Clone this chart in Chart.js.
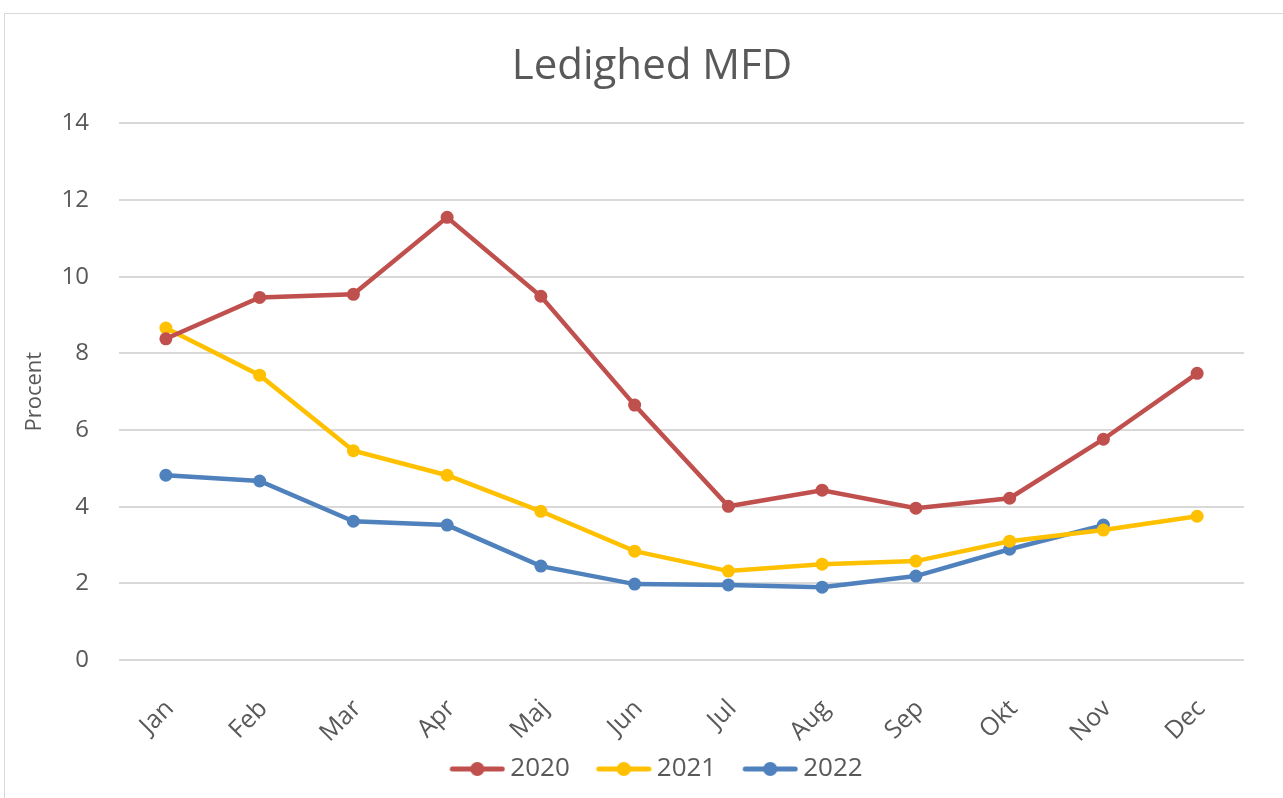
<!DOCTYPE html>
<html>
<head>
<meta charset="utf-8">
<script src="https://cdn.jsdelivr.net/npm/chart.js@4"></script>
<style>
  html, body { margin: 0; padding: 0; background: #fff; }
  #frame { position: absolute; left: 4px; top: 13px; width: 1290px; height: 800px; border: 1px solid #d9d9d9; box-sizing: border-box; }
  #wrap { position: absolute; left: 0; top: 0; width: 1283px; height: 798px; }
</style>
</head>
<body>
<div id="frame"></div>
<div id="wrap"><canvas id="chart"></canvas></div>
<script>
// Månader och ledighet i procent
const months = ["Jan", "Feb", "Mar", "Apr", "Maj", "Jun", "Jul", "Aug", "Sep", "Okt", "Nov", "Dec"];
const values2020 = [8.38, 9.46, 9.54, 11.55, 9.49, 6.65, 4.01, 4.43, 3.96, 4.22, 5.76, 7.48];
const values2021 = [8.66, 7.43, 5.46, 4.82, 3.88, 2.84, 2.32, 2.50, 2.58, 3.10, 3.39, 3.75];
const values2022 = [4.82, 4.67, 3.62, 3.52, 2.45, 1.98, 1.96, 1.90, 2.19, 2.89, 3.52, null];
const yTicks = [0, 2, 4, 6, 8, 10, 12, 14];

const textColor = "#595959";
const fontFamily = "'Open Sans', 'Liberation Sans', sans-serif";

// Legendsymbol: linje med punkt i mitten (med tom marginal till vänster)
function legendSymbol(color) {
  const c = document.createElement("canvas");
  c.width = 80; c.height = 16;
  const ctx = c.getContext("2d");
  ctx.strokeStyle = color;
  ctx.lineWidth = 5;
  ctx.lineCap = "round";
  ctx.beginPath();
  ctx.moveTo(27, 8); ctx.lineTo(77, 8);
  ctx.stroke();
  ctx.fillStyle = color;
  ctx.beginPath();
  ctx.arc(52, 8, 7, 0, Math.PI * 2);
  ctx.fill();
  return c;
}

function makeSet(label, data, color) {
  return {
    label: label,
    data: data,
    borderColor: color,
    backgroundColor: color,
    borderWidth: 4.5,
    pointRadius: 6.5,
    pointHoverRadius: 6.5,
    pointStyle: "circle",
    pointBackgroundColor: color,
    pointBorderWidth: 0,
    tension: 0,
    spanGaps: false
  };
}

// flytta titel och legend lite åt höger
const boxShift = {
  id: "boxShift",
  afterUpdate(chart) {
    if (chart.legend) {
      chart.legend.left += 20;
      chart.legend.right += 20;
    }
    if (chart.titleBlock) {
      chart.titleBlock.left += 24;
      chart.titleBlock.right += 24;
    }
  }
};

new Chart(document.getElementById("chart"), {
  type: "line",
  data: {
    labels: months,
    datasets: [
      makeSet("2020", values2020, "#C0504D"),
      makeSet("2021", values2021, "#FFC000"),
      makeSet("2022", values2022, "#4F81BD")
    ]
  },
  plugins: [boxShift],
  options: {
    responsive: true,
    maintainAspectRatio: false,
    animation: false,
    layout: { padding: { left: 12, right: 39, top: 0, bottom: 6 } },
    plugins: {
      title: {
        display: true,
        text: "Ledighed MFD",
        color: textColor,
        font: { family: fontFamily, size: 42, weight: "normal" },
        padding: { top: 42, bottom: 31 }
      },
      legend: {
        position: "bottom",
        labels: {
          color: textColor,
          font: { family: fontFamily, size: 26 },
          usePointStyle: true,
          pointStyleWidth: 64,
          boxHeight: 16,
          padding: 10,
          generateLabels(chart) {
            return chart.data.datasets.map((ds, i) => ({
              text: ds.label,
              fillStyle: ds.borderColor,
              strokeStyle: ds.borderColor,
              fontColor: textColor,
              lineWidth: 0,
              pointStyle: legendSymbol(ds.borderColor),
              datasetIndex: i,
              hidden: !chart.isDatasetVisible(i)
            }));
          }
        }
      },
      tooltip: { enabled: false }
    },
    scales: {
      x: {
        offset: true,
        grid: { display: false },
        border: { display: false },
        afterFit(axis) { axis.height = 86; },
        ticks: {
          color: textColor,
          font: { family: fontFamily, size: 25 },
          maxRotation: 45,
          minRotation: 45,
          padding: 26,
          labelOffset: 4
        }
      },
      y: {
        min: 0,
        max: 14,
        afterBuildTicks(axis) { axis.ticks = yTicks.map(v => ({ value: v })); },
        afterFit(axis) { axis.width = 107; },
        grid: { color: "#d9d9d9", lineWidth: 2, drawTicks: false },
        border: { display: false },
        title: {
          display: true,
          text: "Procent",
          color: textColor,
          font: { family: fontFamily, size: 22 },
          padding: { top: 10, bottom: 0 }
        },
        ticks: {
          color: textColor,
          font: { family: fontFamily, size: 24 },
          padding: 30
        }
      }
    }
  }
});
</script>
</body>
</html>
